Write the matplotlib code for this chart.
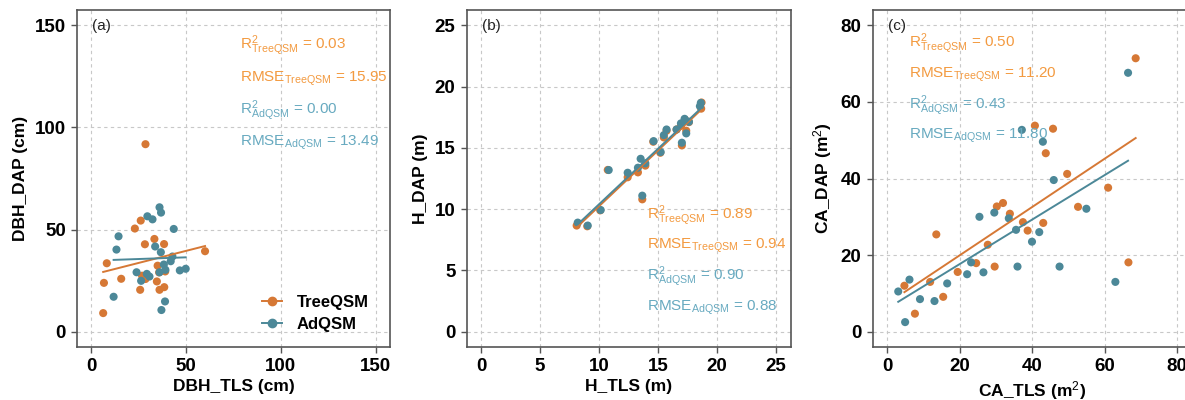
import numpy as np
import matplotlib
matplotlib.use("Agg")
import matplotlib.pyplot as plt

plt.rcParams['font.family'] = ['Liberation Sans', 'DejaVu Sans']
plt.rcParams['mathtext.fontset'] = 'custom'
plt.rcParams['mathtext.rm'] = 'Liberation Sans'
plt.rcParams['mathtext.it'] = 'Liberation Sans'
plt.rcParams['mathtext.bf'] = 'Liberation Sans:bold'

# colours
c_tree = '#D67835'
c_ad = '#4C8898'
t_tree = '#F39A40'
t_ad = '#68AAC0'

# ---- panel (a) DBH ----
dbh_tls_tree = [28.6, 26.1, 23.0, 33.3, 28.3, 38.4, 8.2, 6.7, 15.8, 6.3, 25.8, 34.6,
                36.0, 38.5, 26.8, 28.6, 35.0, 39.0, 35.8, 60.0]
dbh_dap_tree = [91.8, 54.4, 50.5, 45.4, 42.8, 42.9, 33.5, 23.9, 25.9, 9.1, 20.5, 24.6,
                20.5, 21.8, 27.4, 25.8, 32.3, 29.5, 29.0, 39.4]
dbh_tls_ad = [36.0, 36.8, 29.6, 32.3, 43.5, 14.4, 13.3, 33.7, 36.7, 42.8, 41.9, 38.3,
              39.1, 46.7, 49.8, 23.9, 29.3, 30.7, 26.3, 36.0, 11.8, 38.9, 37.0]
dbh_dap_ad = [60.9, 58.3, 56.5, 55.0, 50.3, 46.7, 40.2, 41.7, 38.9, 36.8, 34.5, 32.9,
              30.3, 30.0, 30.8, 29.1, 28.3, 27.0, 24.9, 29.1, 17.1, 14.8, 10.6]

# ---- panel (b) height ----
h_tls_tree = [8.1, 9.0, 10.1, 10.74, 12.43, 13.3, 13.67, 13.93, 14.6, 15.2, 15.5, 15.73,
              16.58, 17.03, 16.95, 17.3, 17.4, 17.63, 18.67, 18.7]
h_dap_tree = [8.66, 8.6, 9.9, 13.2, 12.6, 13.0, 10.8, 13.55, 15.5, 14.6, 15.85, 16.4,
              16.5, 15.2, 16.8, 17.3, 16.4, 17.1, 18.2, 18.7]
h_tls_ad = [8.19, 9.04, 10.14, 10.82, 12.43, 13.3, 13.53, 13.67, 13.93, 14.63, 15.23,
            15.5, 15.73, 16.58, 17.03, 16.95, 17.26, 17.4, 17.63, 18.56, 18.64]
h_dap_ad = [8.9, 8.66, 9.93, 13.19, 12.97, 13.38, 14.11, 11.1, 13.74, 15.55, 14.66,
            16.04, 16.5, 16.5, 15.42, 17.0, 17.37, 16.18, 17.13, 18.4, 18.67]

# ---- panel (c) crown area ----
ca_tls_tree = [68.6, 40.8, 45.8, 43.8, 49.7, 61.0, 52.7, 32.0, 30.3, 33.9, 37.5, 43.1,
               38.8, 13.6, 27.8, 24.6, 29.7, 19.5, 11.9, 4.8, 15.5, 7.7, 66.6]
ca_dap_tree = [71.4, 53.8, 53.0, 46.6, 41.2, 37.6, 32.6, 33.6, 32.7, 30.8, 28.6, 28.4,
               26.4, 25.4, 22.7, 17.9, 17.0, 15.6, 13.0, 12.0, 9.1, 4.7, 18.1]
ca_tls_ad = [66.5, 37.2, 43.0, 46.0, 55.0, 29.6, 25.5, 33.6, 35.6, 42.0, 40.0, 23.2,
             36.0, 47.6, 22.1, 26.6, 16.6, 6.2, 3.1, 9.1, 13.1, 5.0, 63.0]
ca_dap_ad = [67.6, 52.7, 49.6, 39.6, 32.1, 31.1, 30.0, 29.6, 26.6, 26.0, 23.5, 18.1,
             17.0, 17.0, 15.0, 15.5, 12.6, 13.6, 10.5, 8.5, 8.0, 2.5, 13.0]

stats_a = ['0.03', '15.95', '0.00', '13.49']
stats_b = ['0.89', '0.94', '0.90', '0.88']
stats_c = ['0.50', '11.20', '0.43', '11.80']

W, H = 1185, 400
fig = plt.figure(figsize=(W / 100, H / 100), dpi=100)

bottom, height = 1 - 347 / H, 337 / H
ax_a = fig.add_axes([77 / W, bottom, 313 / W, height])
ax_b = fig.add_axes([466.5 / W, bottom, 324 / W, height])
ax_c = fig.add_axes([872.5 / W, bottom, 319 / W, height])


def panel(ax, xt, yt, xa, ya, lim, ticks, xlabel, ylabel, tag, stats, tx, ty, dy):
    ax.set_xlim(-0.05 * lim, 1.05 * lim)
    ax.set_ylim(-0.05 * lim, 1.05 * lim)
    ax.set_xticks(ticks)
    ax.set_yticks(ticks)
    ax.grid(True, color='#c8c8c8', linestyle=(0, (3, 3)), linewidth=0.8)
    ax.set_axisbelow(True)
    for s in ax.spines.values():
        s.set_color('#555555')
        s.set_linewidth(1.2)
    ax.tick_params(direction='out', length=4, width=1, color='#555555',
                   labelsize=13.5, pad=4)
    for lab in ax.get_xticklabels() + ax.get_yticklabels():
        lab.set_fontweight('bold')
    ax.set_xlabel(xlabel, fontsize=12.5, fontweight='bold', labelpad=3)
    ax.set_ylabel(ylabel, fontsize=12.5, fontweight='bold', labelpad=5)

    for x, y, col in [(xt, yt, c_tree), (xa, ya, c_ad)]:
        x = np.asarray(x)
        y = np.asarray(y)
        ax.scatter(x, y, s=34, color=col, edgecolors='none', zorder=3)
        k, b = np.polyfit(x, y, 1)
        xx = np.array([x.min(), x.max()])
        ax.plot(xx, k * xx + b, color=col, linewidth=1.4, zorder=4)

    ax.text(0.048, 0.953, tag, transform=ax.transAxes, fontsize=11,
            ha='left', va='center', color='#222222')
    labels = [(r'R$^{2}_{\mathrm{TreeQSM}}$ = ' + stats[0], t_tree),
              (r'RMSE$_{\mathrm{TreeQSM}}$ = ' + stats[1], t_tree),
              (r'R$^{2}_{\mathrm{AdQSM}}$ = ' + stats[2], t_ad),
              (r'RMSE$_{\mathrm{AdQSM}}$ = ' + stats[3], t_ad)]
    for i, (s, col) in enumerate(labels):
        ax.text(tx, ty - i * dy, s, transform=ax.transAxes, fontsize=11,
                color=col, ha='left', va='center', zorder=5)


panel(ax_a, dbh_tls_tree, dbh_dap_tree, dbh_tls_ad, dbh_dap_ad, 150, [0, 50, 100, 150],
      'DBH_TLS (cm)', 'DBH_DAP (cm)', '(a)', stats_a, 0.52, 0.893, 0.096)
panel(ax_b, h_tls_tree, h_dap_tree, h_tls_ad, h_dap_ad, 25, [0, 5, 10, 15, 20, 25],
      'H_TLS (m)', 'H_DAP (m)', '(b)', stats_b, 0.556, 0.39, 0.091)
panel(ax_c, ca_tls_tree, ca_dap_tree, ca_tls_ad, ca_dap_ad, 80, [0, 20, 40, 60, 80],
      r'CA_TLS (m$^{2}$)', r'CA_DAP (m$^{2}$)', '(c)', stats_c, 0.114, 0.899, 0.091)

# legend in panel (a)
h1, = ax_a.plot([], [], color=c_tree, marker='o', markersize=6, linewidth=1.4,
                label='TreeQSM')
h2, = ax_a.plot([], [], color=c_ad, marker='o', markersize=6, linewidth=1.4,
                label='AdQSM')
ax_a.legend(handles=[h1, h2], loc='lower right', frameon=False,
            prop={'weight': 'bold', 'size': 12}, handlelength=1.2,
            bbox_to_anchor=(0.98, 0.0), labelspacing=0.45, handletextpad=0.9)

fig.savefig('out.png', dpi=100)
